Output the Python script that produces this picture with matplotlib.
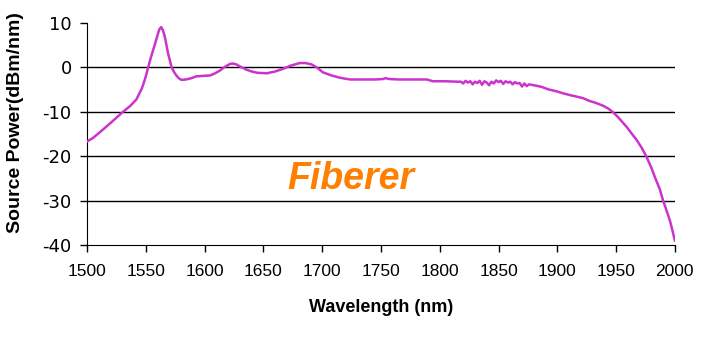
import numpy as np
import matplotlib.pyplot as plt

plt.rcParams['font.family'] = ['Liberation Sans', 'DejaVu Sans']
plt.rcParams['axes.unicode_minus'] = False

# spectrum (wavelength nm, power dBm/nm)
wavelength = [1500, 1505, 1510, 1519.6, 1530.6, 1537, 1542, 1546.5, 1548, 1550, 1552, 1553.6,
              1555.5, 1557.8, 1560, 1561.5, 1563, 1564.5, 1566.3, 1569, 1572, 1574, 1576,
              1578, 1580.4, 1584, 1587.6, 1593, 1598, 1604.6, 1609, 1613, 1617, 1621.6, 1624,
              1627, 1631, 1635.8, 1640, 1645, 1653, 1660, 1666.7, 1673, 1681, 1686, 1691, 1696,
              1700.7, 1708, 1715, 1723.6, 1735, 1745, 1751.7, 1754, 1757, 1765, 1775, 1789,
              1794, 1805, 1815, 1818, 1820, 1822, 1824, 1826, 1828, 1830, 1832, 1834, 1836,
              1838, 1840, 1842, 1844, 1846, 1848, 1850, 1852, 1854, 1856, 1858, 1860, 1862,
              1864, 1866, 1868, 1870, 1872, 1874, 1876, 1878, 1882, 1887, 1892, 1899.7, 1906,
              1912, 1917, 1921.8, 1927, 1933, 1938.8, 1943, 1947, 1951, 1955, 1959, 1963,
              1967.7, 1972, 1976, 1980, 1983, 1987, 1990, 1993, 1995.8, 1998, 2000]
power = [-16.7, -15.9, -14.8, -12.6, -10.0, -8.6, -7.2, -4.8, -3.7, -2.0, 0.0, 1.6,
         3.3, 5.3, 7.3, 8.6, 9.1, 8.5, 6.8, 3.1, 0.0, -1.0, -1.8,
         -2.4, -2.8, -2.7, -2.5, -2.0, -1.9, -1.8, -1.3, -0.7, 0.1, 0.8, 0.9,
         0.7, 0.1, -0.5, -0.9, -1.2, -1.3, -0.9, -0.3, 0.4, 1.0, 1.0, 0.7, -0.1,
         -1.1, -1.8, -2.3, -2.7, -2.7, -2.7, -2.6, -2.4, -2.6, -2.7, -2.7, -2.7,
         -3.1, -3.1, -3.2, -3.2, -3.6, -3.0, -3.4, -3.1, -3.8, -3.2, -3.5, -3.0, -3.9,
         -3.1, -3.4, -4.0, -3.2, -3.6, -2.9, -3.3, -3.0, -3.7, -3.1, -3.4, -3.2, -3.8,
         -3.3, -3.6, -3.5, -4.3, -3.6, -4.2, -3.8, -3.9, -4.1, -4.4, -4.9, -5.4, -5.9,
         -6.3, -6.6, -6.9, -7.5, -8.0, -8.6, -9.2, -10.0, -11.0, -12.2, -13.4, -14.8,
         -16.4, -18.2, -20.2, -22.6, -24.7, -27.3, -30.0, -32.3, -34.5, -36.8, -39.0]

fig = plt.figure(figsize=(7.04, 3.56), dpi=100)
ax = fig.add_axes([0.1236, 0.312, 0.835, 0.623])

ax.plot(wavelength, power, color='#cc33cc', linewidth=1.8, zorder=3)

ax.set_xlim(1500, 2000)
ax.set_ylim(-40, 10)
ax.set_xticks(range(1500, 2001, 50))
ax.set_yticks(range(-40, 11, 10))
for v in [0, -10, -20, -30]:
    ax.axhline(v, color='black', linewidth=1, zorder=1)

ax.spines['top'].set_visible(False)
ax.spines['right'].set_visible(False)
ax.tick_params(direction='out', length=5, width=1, colors='black')
ax.tick_params(axis='x', pad=9, labelsize=12.5)
ax.tick_params(axis='y', pad=6)
for lab in ax.get_yticklabels():
    lab.set_fontfamily('DejaVu Sans')
    lab.set_fontsize(13)

ax.set_xlabel('Wavelength (nm)', fontsize=13, fontweight='bold')
ax.xaxis.set_label_coords(0.5, -0.245)
ax.set_ylabel('Source Power(dBm/nm)', fontsize=14, fontweight='bold')
ax.yaxis.set_label_coords(-0.107, 0.55)

ax.text(1724.5, -27.5, 'Fiberer', color='#ff8000', fontsize=27, fontweight='bold',
        fontstyle='italic', ha='center', va='baseline')

fig.savefig('out.png', dpi=100)
